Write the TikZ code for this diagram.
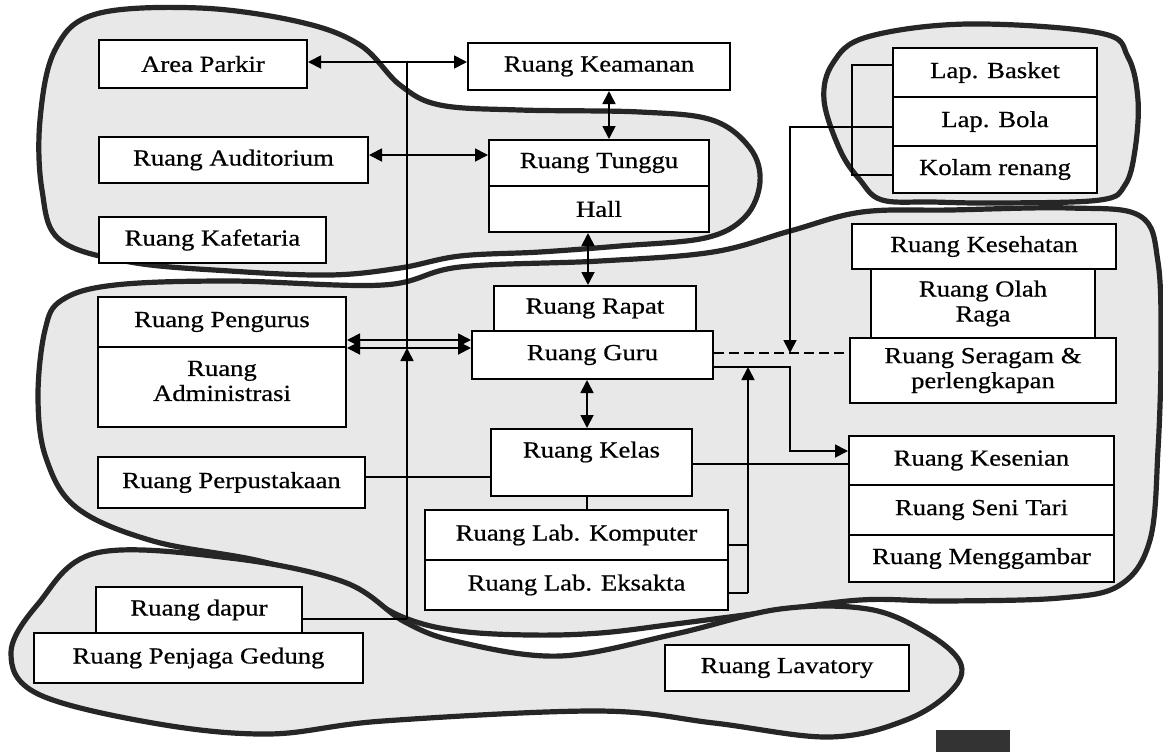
\documentclass[tikz,border=0pt]{standalone}
\usepackage{fontspec}
\setmainfont{Liberation Serif}[FakeStretch=1.16, FakeBold=0.6]
\usetikzlibrary{arrows.meta}
\tikzset{
  x=0.5pt, y=-0.5pt,
  every node/.style={font=\fontsize{11.5}{12.5}\selectfont},
  room/.style={draw, line width=1pt, fill=white, inner sep=0pt, align=center},
  txt/.style={anchor=center, align=center},
  sz/.style 2 args={minimum width={#1*0.5pt}, minimum height={#2*0.5pt}},
  blob/.style={draw=black!85, line width=2.6pt, fill=black!9, line join=round},
  conn/.style={line width=0.9pt},
  dbl/.style={conn, {Triangle[length=6.5pt,width=6.5pt]}-{Triangle[length=6.5pt,width=6.5pt]}},
  ar/.style={conn, -{Triangle[length=6.5pt,width=6.5pt]}},
}
\begin{document}
\begin{tikzpicture}
\useasboundingbox (0,0) rectangle (1163,752);
% ---------- zones ----------
\path[blob] plot[smooth cycle, tension=0.6] coordinates {
 (96,14) (200,8) (300,22) (360,45) (400,85) (440,105) (520,110) (640,112)
 (712,120) (750,148) (760,182) (745,217) (705,238) (620,246) (540,252)
 (460,256) (400,268) (330,275) (230,271) (130,262) (60,240) (42,190) (40,120) (55,50)};
\path[blob] plot[smooth cycle, tension=0.6] coordinates {
 (867,37) (967,24) (1100,33) (1128,57) (1138,100) (1135,150) (1125,185)
 (1100,200) (1000,203) (933,202) (882,200) (860,180) (840,150) (824,100) (833,63)};
\path[blob] plot[smooth cycle, tension=0.6] coordinates {
 (62,300) (115,285) (230,281) (383,285) (460,267) (600,261) (713,252) (790,231)
 (862,212) (950,210) (1070,208) (1140,216) (1158,262) (1161,350) (1158,450)
 (1150,540) (1120,585) (1060,598) (945,601) (860,600) (760,613) (675,624)
 (600,633) (530,635) (459,631) (405,618) (344,587) (260,561) (153,541)
 (77,508) (46,458) (38,397) (45,330)};
\path[blob] plot[smooth cycle, tension=0.6] coordinates {
 (11,653) (38,604) (96,553) (230,558) (344,582) (405,622) (459,642) (560,656)
 (675,634) (780,609) (868,609) (925,632) (960,662) (952,690) (906,720)
 (829,737) (714,723) (598,711) (383,721) (268,734) (153,723) (38,694)};
\fill[black!80] (936,730) rectangle (1010,752);
% ---------- rooms ----------
\node[room, sz={208}{48}] (park) at (203,64) {Area Parkir};
\node[room, sz={262}{47}] (keam) at (599,66.5) {Ruang Keamanan};
\node[room, sz={269}{46}] (audi) at (233.5,160) {Ruang Auditorium};
\node[room, sz={227}{46}] (kafe) at (212.5,240) {Ruang Kafetaria};
\node[room, sz={220}{46}] (tunggu) at (599,163) {Ruang Tunggu};
\node[room, sz={220}{46}] (hall) at (599,209) {Hall};
\node[room, sz={204}{49}] (basket) at (995,72.5) {Lap. Basket};
\node[room, sz={204}{49}] (bola) at (995,121.5) {Lap. Bola};
\node[room, sz={204}{47}] (kolam) at (995,169.5) {Kolam renang};
\node[room, sz={264}{45}] (keseh) at (984,246.5) {Ruang Kesehatan};
\node[room, sz={224}{69}] (olah) at (983,303.5) {Ruang Olah\\Raga};
\node[room, sz={266}{65}] (seragam) at (983,370.5) {Ruang Seragam \&\\perlengkapan};
\node[room, sz={265}{49}] (kesenian) at (981.5,460.5) {Ruang Kesenian};
\node[room, sz={265}{50}] (tari) at (981.5,510) {Ruang Seni Tari};
\node[room, sz={265}{47}] (gambar) at (981.5,558.5) {Ruang Menggambar};
\node[room, sz={202}{45}] (rapat) at (595,308.5) {Ruang Rapat};
\node[room, sz={241}{48}] (guru) at (592.5,355) {Ruang Guru};
\node[room, sz={201}{67}] (kelas) at (591.5,462.5) {};
\node[txt] (kelast) at (591.5,452) {Ruang Kelas};
\node[room, sz={303}{50}] (labk) at (576.5,535) {Ruang Lab. Komputer};
\node[room, sz={303}{50}] (labe) at (576.5,585) {Ruang Lab. Eksakta};
\node[room, sz={248}{50}] (peng) at (222,322) {Ruang Pengurus};
\node[room, sz={248}{80}] (admin) at (222,387) {};
\node[txt] (admint) at (222,381) {Ruang\\Administrasi};
\node[room, sz={267}{51}] (perpus) at (231.5,482.5) {Ruang Perpustakaan};
\node[room, sz={206}{46}] (dapur) at (199,610) {Ruang dapur};
\node[room, sz={329}{50}] (penjaga) at (198.5,658) {Ruang Penjaga Gedung};
\node[room, sz={244}{46}] (lava) at (787,668) {Ruang Lavatory};
% ---------- helper coordinates ----------
\coordinate (vx) at (407,0);
\coordinate (ya) at (0,62);
\coordinate (yd) at (0,619);
\coordinate (yp1) at (0,340);
\coordinate (yp2) at (0,348);
\coordinate (yau) at (0,155);
\coordinate (xk) at (609,0);
\coordinate (xh) at (588,0);
\coordinate (xg) at (587,0);
\coordinate (ypk) at (0,477);
\coordinate (ykk) at (0,464);
\coordinate (yds) at (0,353);
\coordinate (ygk) at (0,367);
\coordinate (yks) at (0,451);
\coordinate (xr) at (790,0);
\coordinate (ylb) at (0,127);
\coordinate (xl) at (748,0);
\coordinate (yl1) at (0,545);
\coordinate (yl2) at (0,593);
\coordinate (xb) at (852,0);
\coordinate (yb1) at (0,65);
\coordinate (yb2) at (0,175);
% ---------- connectors ----------
\draw[dbl] (park.east |- ya) -- (keam.west |- ya);
\draw[conn] (vx |- ya) -- (vx |- yp2);
\draw[conn] (dapur.east |- yd) -- (vx |- yd);
\draw[ar] (vx |- yd) -- (vx |- yp2);
\draw[dbl] (peng.east |- yp1) -- (guru.west |- yp1);
\draw[dbl] (peng.east |- yp2) -- (guru.west |- yp2);
\draw[dbl] (audi.east |- yau) -- (tunggu.west |- yau);
\draw[dbl] (keam.south -| xk) -- (tunggu.north -| xk);
\draw[dbl] (hall.south -| xh) -- (rapat.north -| xh);
\draw[dbl] (guru.south -| xg) -- (kelas.north -| xg);
\draw[conn] (kelas.south -| xg) -- (labk.north -| xg);
\draw[conn] (perpus.east |- ypk) -- (kelas.west |- ypk);
\draw[conn] (kelas.east |- ykk) -- (kesenian.west |- ykk);
\draw[conn, dashed, dash pattern=on 5pt off 2.5pt] (guru.east |- yds) -- (seragam.west |- yds);
\draw[ar] (bola.west |- ylb) -- (xr |- ylb) -- (xr |- yds);
\draw[ar] (guru.east |- ygk) -- (xr |- ygk) -- (xr |- yks) -- (kesenian.west |- yks);
\draw[conn] (labk.east |- yl1) -- (xl |- yl1);
\draw[conn] (labe.east |- yl2) -- (xl |- yl2);
\draw[ar] (xl |- yl2) -- (xl |- ygk);
\draw[conn] (basket.west |- yb1) -- (xb |- yb1) -- (xb |- yb2) -- (kolam.west |- yb2);
\end{tikzpicture}
\end{document}
